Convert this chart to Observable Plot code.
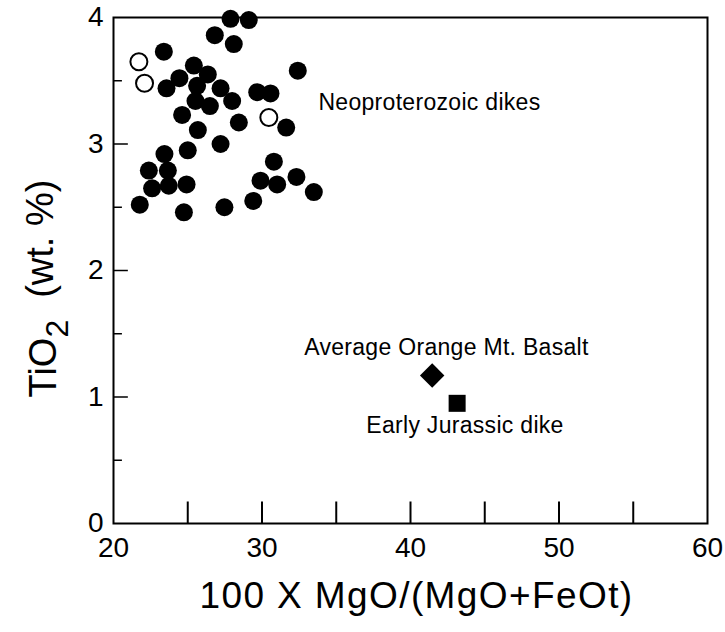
<!DOCTYPE html>
<html><head><meta charset="utf-8">
<script src="https://cdn.jsdelivr.net/npm/d3@7"></script>
<script src="https://cdn.jsdelivr.net/npm/@observablehq/plot@0.6"></script>
<style>
html,body{margin:0;padding:0;background:#fff;}
#chart svg{font-family:"Liberation Sans",Arial,Helvetica,sans-serif;}
</style></head><body><div id="chart"></div>
<script>
// Neoproterozoic dikes (filled circles)
const neoX = [27.88,29.11,26.82,28.10,23.39,32.41,25.41,24.44,26.35,25.63,23.57,27.21,29.68,30.57,27.99,25.52,26.49,24.62,28.44,31.63,25.68,27.21,25.00,23.43,30.80,22.38,23.66,29.90,31.02,32.32,22.60,23.72,24.92,33.49,21.77,24.74,27.47,29.41];
const neoY = [3.99,3.98,3.86,3.79,3.73,3.58,3.62,3.52,3.55,3.46,3.44,3.44,3.41,3.40,3.34,3.34,3.30,3.23,3.17,3.13,3.11,3.00,2.95,2.92,2.86,2.79,2.79,2.71,2.68,2.74,2.65,2.67,2.68,2.62,2.52,2.46,2.50,2.55];
// Neoproterozoic dikes (open circles)
const openX = [21.71,22.09,30.46];
const openY = [3.65,3.48,3.21];
// Average Orange Mt. Basalt (diamond)
const basaltX = [41.46];
const basaltY = [1.17];
// Early Jurassic dike (square)
const jurX = [43.14];
const jurY = [0.95];
// axes
const xTickLabels = [20,30,40,50,60];
const yTickLabels = [0,1,2,3,4];
const xTickMarks = [25,30,35,40,45,50,55];
const yMajorMarks = [1,2,3];
const yMinorMarks = [0.5,1.5,2.5,3.5];
const xTitle = "100 X MgO/(MgO+FeOt)";
// annotations
const neoLabel = {t: "Neoproterozoic dikes", x: 33.8, y: 3.33};
const otherText = ["Average Orange Mt. Basalt","Early Jurassic dike"];
const otherX = [42.42,43.67];
const otherY = [1.39,0.775];

const neo = neoX.map((x,i)=>({x, y: neoY[i]}));
const open = openX.map((x,i)=>({x, y: openY[i]}));
const basalt = basaltX.map((x,i)=>({x, y: basaltY[i]}));
const jur = jurX.map((x,i)=>({x, y: jurY[i]}));
const others = otherText.map((t,i)=>({t, x: otherX[i], y: otherY[i]}));

const plot = Plot.plot({
  width: 725, height: 632,
  marginLeft: 113, marginRight: 18, marginTop: 17, marginBottom: 109,
  x: {domain: [20, 60]},
  y: {domain: [0, 4]},
  style: {fontFamily: "Liberation Sans, Arial, Helvetica, sans-serif", color: "black", background: "white", overflow: "visible"},
  marks: [
    Plot.frame({stroke: "black", strokeWidth: 2}),
    Plot.ruleX(xTickMarks, {x: d => d, y1: 0, y2: 0.17, stroke: "black", strokeWidth: 2}),
    Plot.ruleY(yMajorMarks, {y: d => d, x1: 20, x2: 21, stroke: "black", strokeWidth: 1.5}),
    Plot.ruleY(yMinorMarks, {y: d => d, x1: 20, x2: 20.6, stroke: "black", strokeWidth: 1.5}),
    Plot.axisX({ticks: xTickLabels, tickSize: 0, tickPadding: 14, fontSize: 28, label: null, tickFormat: d => String(d)}),
    Plot.axisY({ticks: yTickLabels, tickSize: 0, tickPadding: 10, fontSize: 28, label: null, tickFormat: d => String(d)}),
    Plot.dot(neo, {x: "x", y: "y", r: 9, fill: "black", stroke: "none"}),
    Plot.dot(open, {x: "x", y: "y", r: 8.5, fill: "white", stroke: "black", strokeWidth: 2}),
    Plot.dot(basalt, {x: "x", y: "y", symbol: "diamond2", r: 11, fill: "black", stroke: "none"}),
    Plot.dot(jur, {x: "x", y: "y", symbol: "square", r: 9.6, fill: "black", stroke: "none"}),
    Plot.text([neoLabel], {x: "x", y: "y", text: "t", textAnchor: "start", fontSize: 23, fill: "black", className: "ann"}),
    Plot.text(others, {x: "x", y: "y", text: "t", textAnchor: "middle", fontSize: 23, fill: "black", className: "ann"}),
    Plot.text([xTitle], {frameAnchor: "bottom", dy: 84, dx: 6, fontSize: 37, fill: "black", className: "xtitle"}),
    Plot.text(["TiO"], {frameAnchor: "left", textAnchor: "middle", dx: -70, dy: 18, rotate: -90, fontSize: 38, fill: "black", className: "ytitle"})
  ]
});
document.getElementById("chart").append(plot);
const svg = d3.select(plot);
svg.selectAll(".ann text").attr("letter-spacing", "0.3px");
svg.selectAll(".xtitle text").attr("letter-spacing", "1.4px");
// y title with subscript
const yt = svg.select(".ytitle text");
yt.text(null);
yt.append("tspan").text("TiO");
yt.append("tspan").attr("font-size", 32).attr("dy", "0.4em").text("2");
yt.append("tspan").attr("dy", "-0.4em").attr("dx", 22).text("(wt. %)");
</script></body></html>
